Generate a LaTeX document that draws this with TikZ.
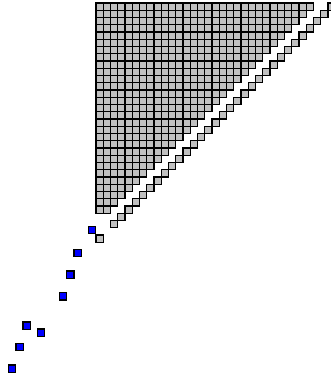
\documentclass[tikz,border=0pt]{standalone}
\usetikzlibrary{math}
\definecolor{cellgray}{RGB}{192,192,192}
\definecolor{cellblue}{RGB}{0,0,255}

\begin{document}
\begin{tikzpicture}[x=0.75pt,y=-0.75pt,
  cell/.style={fill=cellgray,draw=black,line width=0.8pt},
  bluecell/.style={fill=cellblue,draw=black,line width=0.8pt}]
\tikzmath{
\s=7.25;
\xo=96;
\yo=3;
}
\useasboundingbox (0,0) rectangle (331,378);
\clip (0,0) rectangle (331,378);

%filled triangle
\foreach \r in {0,...,28}{
  \pgfmathtruncatemacro{\n}{29-\r}
  \foreach \c in {0,...,\n}{
    \filldraw[cell] ({\xo+\c*\s},{\yo+\r*\s}) rectangle +(\s,\s);
  }
}
%off diagonal
\foreach \r in {0,...,30}{
  \filldraw[cell] ({\xo+(32-\r)*\s},{\yo+\r*\s}) rectangle +(\s,\s);
}
\filldraw[cell] ({\xo},{\yo+32*\s}) rectangle +(\s,\s);
%blue entries
\foreach \x/\y in {88.3/226.5, 74/249.3, 66.7/271, 59.3/292.7, 23/322, 37.5/329, 16/343.3, 8.5/365}{
  \filldraw[bluecell] (\x,\y) rectangle +(7.3,7.3);
}
\end{tikzpicture}
\end{document}
